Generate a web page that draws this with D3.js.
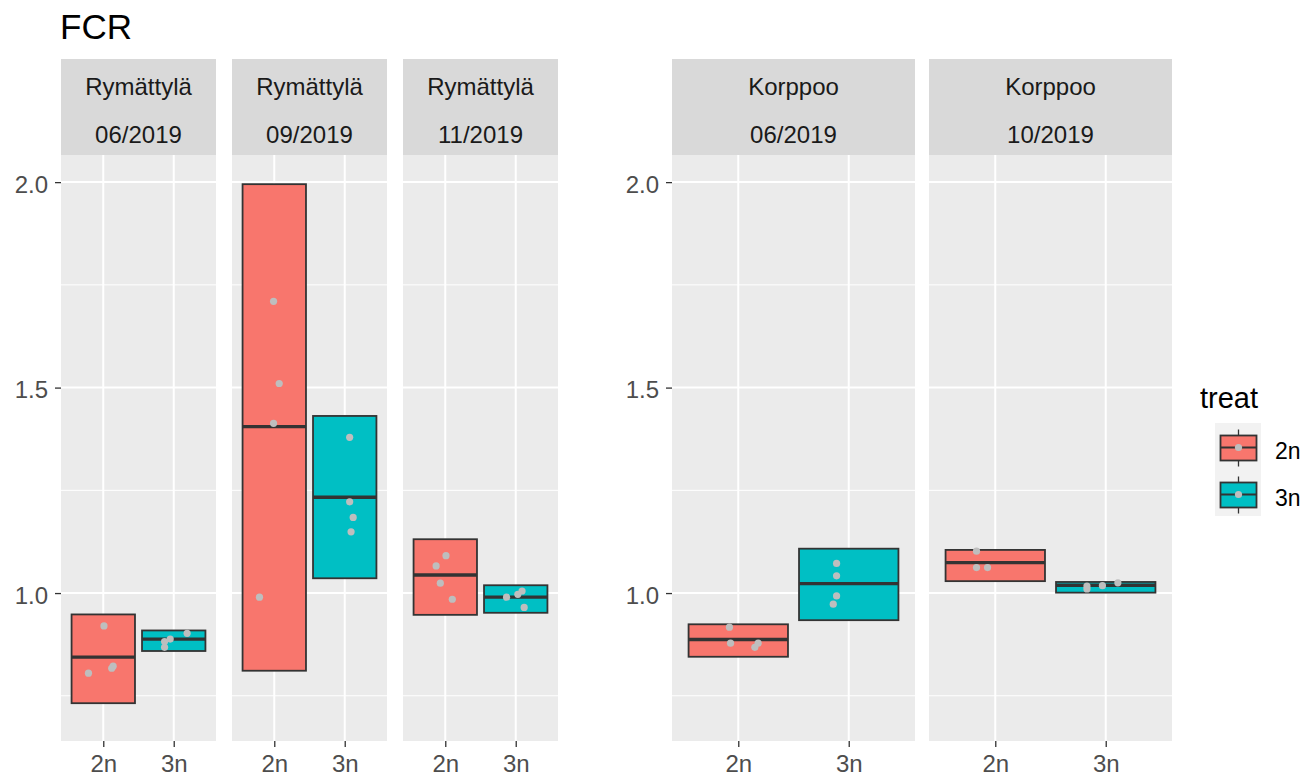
<!DOCTYPE html>
<html>
<head>
<meta charset="utf-8">
<script src="https://cdn.jsdelivr.net/npm/d3@7"></script>
<style>
  body { margin: 0; background: #fff; }
  text { font-family: "Liberation Sans", Arial, sans-serif; }
</style>
</head>
<body>
<div id="chart"></div>
<script>
// chart values
const facetSite = ["Rymättylä", "Rymättylä", "Rymättylä", "Korppoo", "Korppoo"];
const facetDate = ["06/2019", "09/2019", "11/2019", "06/2019", "10/2019"];
const treats = ["2n", "3n"];
const yTicks = [1.0, 1.5, 2.0];
const yMinor = [0.75, 1.25, 1.75];

// crossbar low / middle / high, per facet, [2n, 3n]
const boxLow  = [[0.732, 0.859], [0.811, 1.036], [0.947, 0.952], [0.845, 0.934], [1.029, 1.001]];
const boxMid  = [[0.844, 0.888], [1.405, 1.233], [1.044, 0.990], [0.887, 1.023], [1.074, 1.019]];
const boxHigh = [[0.948, 0.909], [1.995, 1.431], [1.131, 1.019], [0.924, 1.108], [1.105, 1.027]];

// observations per facet per treat, and their jitter (category units)
const pointValues = [
  [[0.920, 0.805, 0.822, 0.817], [0.902, 0.888, 0.882, 0.868]],
  [[1.710, 1.510, 1.413, 0.990], [1.379, 1.222, 1.184, 1.149]],
  [[1.091, 1.066, 1.024, 0.985], [0.990, 0.997, 1.005, 0.965]],
  [[0.917, 0.878, 0.878, 0.868], [1.072, 1.042, 0.993, 0.973]],
  [[1.102, 1.062, 1.062], [1.017, 1.010, 1.018, 1.025]]
];
const pointJitter = [
  [[0.01, -0.21, 0.14, 0.12], [0.19, -0.05, -0.13, -0.13]],
  [[-0.01, 0.07, -0.01, -0.21], [0.07, 0.07, 0.12, 0.09]],
  [[0.01, -0.13, -0.07, 0.10], [-0.13, 0.03, 0.09, 0.12]],
  [[-0.08, -0.07, 0.18, 0.15], [-0.11, -0.11, -0.11, -0.14]],
  [[-0.17, -0.17, -0.07], [-0.17, -0.17, -0.03, 0.11]]
];

const fillColors = ["#F8766D", "#00BFC4"];

// layout
const width = 1308;
const height = 779;
const stripTop = 59, panelTop = 155, panelBottom = 741;
const groups = [
  {facets: [0, 1, 2], x0: 61, panelW: 155, gap: 16},
  {facets: [3, 4], x0: 672, panelW: 243, gap: 14}
];

const svg = d3.select("#chart")
  .append("svg")
  .attr("width", width)
  .attr("height", height);

// title
svg.append("text")
  .attr("x", 60).attr("y", 39)
  .attr("font-size", 35)
  .attr("fill", "#000")
  .text("FCR");

const y = d3.scaleLinear()
  .domain([0.64, 2.066])
  .range([panelBottom, panelTop]);

groups.forEach(grp => {
  // y axis for the group
  const yAxis = d3.axisLeft(y)
    .tickValues(yTicks)
    .tickFormat(d3.format(".1f"))
    .tickSize(6)
    .tickPadding(7);

  const ya = svg.append("g")
    .attr("transform", `translate(${grp.x0}, 0)`)
    .call(yAxis);
  ya.select(".domain").remove();
  ya.selectAll(".tick line").attr("stroke", "#333333").attr("stroke-width", 1.3);
  ya.selectAll(".tick text")
    .attr("font-size", 24)
    .attr("fill", "#4D4D4D")
    .attr("dy", "0.42em")
    .style("font-family", "Liberation Sans, Arial, sans-serif");

  grp.facets.forEach((f, k) => {
    const px = grp.x0 + k * (grp.panelW + grp.gap);
    const x = d3.scaleLinear()
      .domain([0.4, 2.6])
      .range([px, px + grp.panelW]);

    const g = svg.append("g");

    // strip
    g.append("rect")
      .attr("x", px).attr("y", stripTop)
      .attr("width", grp.panelW).attr("height", panelTop - stripTop)
      .attr("fill", "#D9D9D9");
    g.append("text")
      .attr("x", px + grp.panelW / 2).attr("y", 95)
      .attr("text-anchor", "middle")
      .attr("font-size", 24).attr("fill", "#1A1A1A")
      .text(facetSite[f]);
    g.append("text")
      .attr("x", px + grp.panelW / 2).attr("y", 143)
      .attr("text-anchor", "middle")
      .attr("font-size", 24).attr("fill", "#1A1A1A")
      .text(facetDate[f]);

    // panel background and grid
    g.append("rect")
      .attr("x", px).attr("y", panelTop)
      .attr("width", grp.panelW).attr("height", panelBottom - panelTop)
      .attr("fill", "#EBEBEB");
    g.selectAll(".minor")
      .data(yMinor)
      .enter().append("line")
      .attr("x1", px).attr("x2", px + grp.panelW)
      .attr("y1", d => y(d)).attr("y2", d => y(d))
      .attr("stroke", "#fff").attr("stroke-width", 1);
    g.selectAll(".major")
      .data(yTicks)
      .enter().append("line")
      .attr("x1", px).attr("x2", px + grp.panelW)
      .attr("y1", d => y(d)).attr("y2", d => y(d))
      .attr("stroke", "#fff").attr("stroke-width", 2);
    g.selectAll(".vmajor")
      .data(treats)
      .enter().append("line")
      .attr("x1", (d, i) => x(i + 1)).attr("x2", (d, i) => x(i + 1))
      .attr("y1", panelTop).attr("y2", panelBottom)
      .attr("stroke", "#fff").attr("stroke-width", 2);

    // crossbars
    const bars = treats.map((t, i) => ({
      i: i, lo: boxLow[f][i], mid: boxMid[f][i], hi: boxHigh[f][i]
    }));
    g.selectAll(".box")
      .data(bars)
      .enter().append("rect")
      .attr("x", d => x(d.i + 1 - 0.45))
      .attr("width", d => x(d.i + 1 + 0.45) - x(d.i + 1 - 0.45))
      .attr("y", d => y(d.hi))
      .attr("height", d => y(d.lo) - y(d.hi))
      .attr("fill", d => fillColors[d.i])
      .attr("stroke", "#333333").attr("stroke-width", 1.8);
    g.selectAll(".mid")
      .data(bars)
      .enter().append("line")
      .attr("x1", d => x(d.i + 1 - 0.45))
      .attr("x2", d => x(d.i + 1 + 0.45))
      .attr("y1", d => y(d.mid)).attr("y2", d => y(d.mid))
      .attr("stroke", "#333333").attr("stroke-width", 3.4);

    // jittered points
    const pts = [];
    treats.forEach((t, i) => {
      pointValues[f][i].forEach((v, j) => pts.push({i: i, v: v, jit: pointJitter[f][i][j]}));
    });
    g.selectAll(".pt")
      .data(pts)
      .enter().append("circle")
      .attr("cx", d => x(d.i + 1 + d.jit))
      .attr("cy", d => y(d.v))
      .attr("r", 3.6)
      .attr("fill", "#BEBEBE");

    // x axis
    const xAxis = d3.axisBottom(x)
      .tickValues([1, 2])
      .tickFormat((d, i) => treats[i])
      .tickSize(6)
      .tickPadding(8);
    const xa = g.append("g")
      .attr("transform", `translate(0, ${panelBottom})`)
      .call(xAxis);
    xa.select(".domain").remove();
    xa.selectAll(".tick line").attr("stroke", "#333333").attr("stroke-width", 1.3);
    xa.selectAll(".tick text")
      .attr("font-size", 24)
      .attr("fill", "#4D4D4D")
      .style("font-family", "Liberation Sans, Arial, sans-serif");
  });
});

// legend
const legend = svg.append("g");
legend.append("text")
  .attr("x", 1200).attr("y", 408)
  .attr("font-size", 29).attr("fill", "#000")
  .text("treat");
legend.append("rect")
  .attr("x", 1215).attr("y", 423)
  .attr("width", 46).attr("height", 93)
  .attr("fill", "#F2F2F2");
treats.forEach((t, i) => {
  const cy = 447.5 + i * 47;
  const cx = 1238.5;
  legend.append("line")
    .attr("x1", cx).attr("x2", cx)
    .attr("y1", cy - 18).attr("y2", cy + 19)
    .attr("stroke", "#333333").attr("stroke-width", 1.3);
  legend.append("rect")
    .attr("x", cx - 18).attr("y", cy - 12)
    .attr("width", 36).attr("height", 25)
    .attr("fill", fillColors[i])
    .attr("stroke", "#333333").attr("stroke-width", 1.8);
  legend.append("line")
    .attr("x1", cx - 18).attr("x2", cx + 18)
    .attr("y1", cy).attr("y2", cy)
    .attr("stroke", "#333333").attr("stroke-width", 1.8);
  legend.append("circle")
    .attr("cx", cx).attr("cy", cy).attr("r", 3.6)
    .attr("fill", "#BEBEBE");
  legend.append("text")
    .attr("x", 1275).attr("y", cy + 11)
    .attr("font-size", 23).attr("fill", "#000")
    .text(t);
});
</script>
</body>
</html>
